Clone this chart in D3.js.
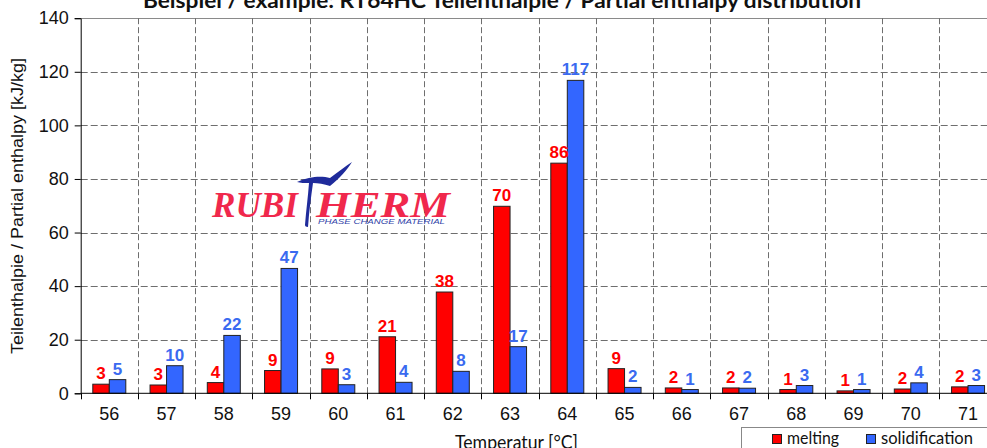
<!DOCTYPE html>
<html><head><meta charset="utf-8">
<script src="https://cdn.jsdelivr.net/npm/d3@7"></script>
<style>
html,body{margin:0;padding:0;background:#fff;overflow:hidden}
svg{display:block}
</style></head>
<body><svg id="c" width="987" height="448"></svg>
<script>
const categories = ["56","57","58","59","60","61","62","63","64","65","66","67","68","69","70","71"];
const melting       = [3.4,3.1,4.0,8.5,9.1,21.1,37.8,69.8,85.9,9.2,2.0,2.0,1.4,0.9,1.6,2.4];
const solidification= [5.1,10.3,21.6,46.6,3.2,4.1,8.2,17.4,116.8,2.2,1.4,1.9,2.9,1.4,3.9,2.9];
const seriesNames = ["melting","solidification"];
const yTicks = [0,20,40,60,80,100,120,140];
const titleText = "Beispiel / example: RT64HC Teilenthalpie / Partial enthalpy distribution";
const yTitle = "Teilenthalpie / Partial enthalpy [kJ/kg]";
const xTitle = "Temperatur [°C]";

(function(){
const colors = {melting:"#ff0000", solidification:"#3366ff"};
const labelColors = {melting:"#ff0000", solidification:"#3a6af0"};

const svg = d3.select("#c");
const pLeft = 80.7, pTop = 18.2, pBottom = 393.3, band = 57.25;
const x = d3.scaleBand().domain(categories).range([pLeft, pLeft + band*categories.length]).padding(0);
const x1 = d3.scaleBand().domain(seriesNames).range([12.1, 45.1]).padding(0);
const y = d3.scaleLinear().domain([0,140]).range([pBottom, pTop]);

// horizontal grid
svg.append("g").selectAll("line").data(yTicks.filter(t=>t>0 && t<140)).join("line")
  .attr("x1", pLeft).attr("x2", 987).attr("y1", d=>Math.round(y(d))+0.5).attr("y2", d=>Math.round(y(d))+0.5)
  .attr("stroke","#6e6e6e").attr("stroke-width",1).attr("stroke-dasharray","7,3");
// top border
svg.append("line").attr("x1",pLeft).attr("x2",987).attr("y1",Math.round(pTop)+0.5).attr("y2",Math.round(pTop)+0.5)
  .attr("stroke","#8a8a8a").attr("stroke-width",1);
// vertical grid
svg.append("g").selectAll("line").data(categories.slice(1)).join("line")
  .attr("x1", d=>Math.round(x(d))+0.5).attr("x2", d=>Math.round(x(d))+0.5)
  .attr("y1", pTop).attr("y2", pBottom)
  .attr("stroke","#6e6e6e").attr("stroke-width",1).attr("stroke-dasharray","6,3");

// bars
const data = categories.map((c,i)=>({cat:c, values:[{k:"melting",v:melting[i]},{k:"solidification",v:solidification[i]}]}));
const g = svg.append("g").selectAll("g").data(data).join("g").attr("transform", d=>`translate(${x(d.cat)},0)`);
g.selectAll("rect").data(d=>d.values).join("rect")
  .attr("x", d=>x1(d.k)).attr("width", x1.bandwidth())
  .attr("y", d=>y(d.v)).attr("height", d=>pBottom - y(d.v))
  .attr("fill", d=>colors[d.k]).attr("stroke","#222").attr("stroke-width",1);
g.selectAll("text").data(d=>d.values).join("text")
  .attr("x", d=>x1(d.k)+x1.bandwidth()/2).attr("y", d=>y(d.v)-5)
  .attr("text-anchor","middle").attr("font-family","Liberation Sans, Arial, sans-serif")
  .attr("font-weight","bold").attr("font-size",17).attr("fill", d=>labelColors[d.k])
  .text(d=>Math.round(d.v));

// axes
const yAxis = d3.axisLeft(y).tickValues(yTicks).tickSize(6).tickPadding(6);
const ya = svg.append("g").attr("transform",`translate(${pLeft},0)`).call(yAxis);
ya.select(".domain").attr("stroke","#000");
ya.selectAll(".tick line").attr("stroke","#000");
ya.selectAll("text").attr("font-family","Liberation Sans, Arial, sans-serif").attr("font-size",18).attr("fill","#111");

const xa = svg.append("g").attr("transform",`translate(0,${pBottom})`).call(d3.axisBottom(x).tickSize(0).tickPadding(14));
xa.select(".domain").remove();
xa.selectAll("text").attr("font-family","Liberation Sans, Arial, sans-serif").attr("font-size",18).attr("fill","#111");
svg.append("line").attr("x1",pLeft).attr("x2",987).attr("y1",pBottom).attr("y2",pBottom).attr("stroke","#000");
svg.append("g").selectAll("line").data(categories).join("line")
  .attr("x1", d=>Math.round(x(d))+0.5).attr("x2", d=>Math.round(x(d))+0.5)
  .attr("y1", pBottom).attr("y2", pBottom+6).attr("stroke","#000");

// titles
svg.append("text").attr("x",143).attr("y",8).attr("font-family","Lato, sans-serif").attr("font-weight","bold")
  .attr("font-size",21).attr("fill","#111").attr("textLength",718).attr("lengthAdjust","spacingAndGlyphs").text(titleText);
svg.append("text").attr("x",863).attr("y",4).attr("font-family","Lato, sans-serif").attr("font-size",11).attr("fill","#111").text("*");

svg.append("text").attr("transform","translate(23,206) rotate(-90)").attr("text-anchor","middle")
  .attr("font-family","Liberation Sans, Arial, sans-serif").attr("font-size",16).attr("fill","#111")
  .attr("textLength",296).attr("lengthAdjust","spacingAndGlyphs").text(yTitle);

svg.append("text").attr("x",455).attr("y",449).attr("font-family","Lato, sans-serif")
  .attr("font-size",20).attr("fill","#111").attr("textLength",123).attr("lengthAdjust","spacingAndGlyphs").text(xTitle);

// legend
svg.append("rect").attr("x",741.5).attr("y",427.5).attr("width",300).attr("height",40).attr("fill","#fff").attr("stroke","#888");
const legX = [772, 866], legTW = [52, 92];
seriesNames.forEach((s,i)=>{
  svg.append("rect").attr("x",legX[i]+0.5).attr("y",434.5).attr("width",9).attr("height",9).attr("fill",colors[s]).attr("stroke","#222");
  svg.append("text").attr("x",legX[i]+15).attr("y",444).attr("font-family","Lato, sans-serif").attr("font-size",17)
    .attr("fill","#111").attr("textLength",legTW[i]).attr("lengthAdjust","spacingAndGlyphs").text(s);
});

// logo
const logo = svg.append("g");
logo.append("text").attr("x",212).attr("y",216.5).attr("font-family","Liberation Serif, serif").attr("font-style","italic")
  .attr("font-weight","bold").attr("font-size",35).attr("fill","#f0284c").attr("textLength",86).attr("lengthAdjust","spacingAndGlyphs").text("RUBI");
logo.append("text").attr("x",316).attr("y",216.5).attr("font-family","Liberation Serif, serif").attr("font-style","italic")
  .attr("font-weight","bold").attr("font-size",35).attr("fill","#f0284c").attr("textLength",134).attr("lengthAdjust","spacingAndGlyphs").text("HERM");
logo.append("path").attr("d","M297,182 C310,176 322,176 330,178 C338,172 346,166 352,162 C347,170 340,178 330,186 C324,184 318,183 313,183 C311,197 309,212 308,227 C306,227 305,226 305,225 C306,211 308,197 309,183 C305,183 300,183 297,182 Z")
  .attr("fill","#1f2b9b");
logo.append("text").attr("x",318).attr("y",224).attr("font-family","Liberation Sans, Arial, sans-serif").attr("font-style","italic")
  .attr("font-size",7.5).attr("fill","#2f3fa8").attr("textLength",127).attr("lengthAdjust","spacingAndGlyphs").text("PHASE CHANGE MATERIAL");
})();
</script></body></html>
